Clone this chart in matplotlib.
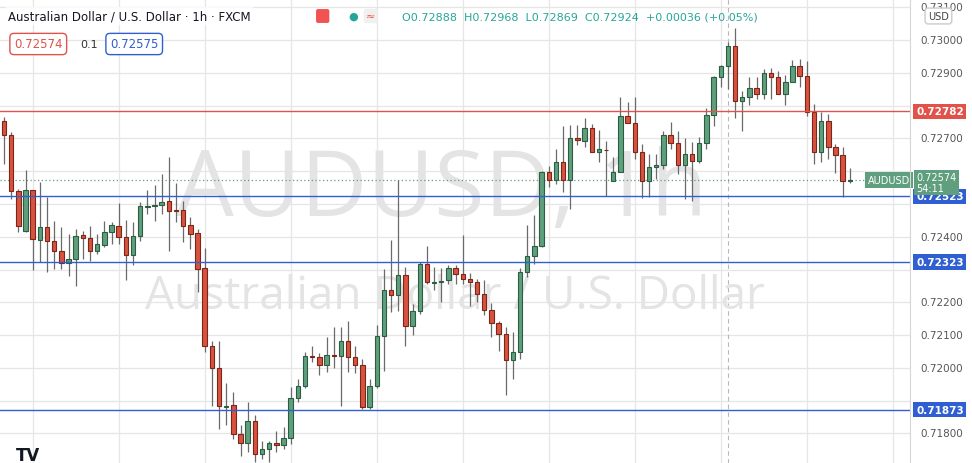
import matplotlib
matplotlib.use("Agg")
import matplotlib.pyplot as plt
from matplotlib.transforms import blended_transform_factory
import numpy as np

# hourly AUD/USD candles (open, high, low, close)
opens = [0.72753, 0.72710, 0.72539, 0.72417, 0.72542, 0.72390, 0.72430, 0.72387, 0.72356, 0.72320,
         0.72332, 0.72405, 0.72396, 0.72356, 0.72375, 0.72414, 0.72433, 0.72399, 0.72344, 0.72402,
         0.72492, 0.72495, 0.72497, 0.72509, 0.72481, 0.72481, 0.72436, 0.72411, 0.72305, 0.72067,
         0.71999, 0.71882, 0.71887, 0.71798, 0.71771, 0.71838, 0.71737, 0.71753, 0.71771, 0.71765,
         0.71786, 0.71908, 0.71945, 0.72036, 0.72033, 0.72009, 0.72039, 0.72036, 0.72082, 0.72033,
         0.72009, 0.71881, 0.71945, 0.72097, 0.72237, 0.72222, 0.72283, 0.72128, 0.72173, 0.72317,
         0.72260, 0.72263, 0.72268, 0.72305, 0.72286, 0.72271, 0.72262, 0.72225, 0.72176, 0.72137,
         0.72103, 0.72024, 0.72048, 0.72292, 0.72341, 0.72372, 0.72597, 0.72573, 0.72628, 0.72573,
         0.72701, 0.72692, 0.72732, 0.72658, 0.72666, 0.72570, 0.72597, 0.72768, 0.72747, 0.72658,
         0.72570, 0.72613, 0.72619, 0.72710, 0.72686, 0.72619, 0.72652, 0.72631, 0.72686, 0.72771,
         0.72887, 0.72921, 0.72982, 0.72814, 0.72826, 0.72854, 0.72835, 0.72899, 0.72887, 0.72835,
         0.72872, 0.72921, 0.72890, 0.72780, 0.72658, 0.72753, 0.72674, 0.72649, 0.72570]
highs = [0.72765, 0.72719, 0.72546, 0.72603, 0.72542, 0.72567, 0.72521, 0.72448, 0.72430, 0.72408,
         0.72424, 0.72417, 0.72433, 0.72408, 0.72448, 0.72445, 0.72503, 0.72451, 0.72445, 0.72506,
         0.72542, 0.72558, 0.72591, 0.72643, 0.72564, 0.72509, 0.72460, 0.72424, 0.72366, 0.72082,
         0.72082, 0.71954, 0.71926, 0.71826, 0.71896, 0.71856, 0.71777, 0.71777, 0.71807, 0.71820,
         0.71942, 0.71966, 0.72048, 0.72067, 0.72045, 0.72094, 0.72125, 0.72125, 0.72143, 0.72067,
         0.72027, 0.71966, 0.72131, 0.72302, 0.72390, 0.72573, 0.72308, 0.72195, 0.72323, 0.72372,
         0.72308, 0.72305, 0.72314, 0.72314, 0.72405, 0.72289, 0.72271, 0.72268, 0.72198, 0.72143,
         0.72125, 0.72109, 0.72305, 0.72436, 0.72466, 0.72600, 0.72616, 0.72668, 0.72738, 0.72741,
         0.72741, 0.72762, 0.72744, 0.72725, 0.72692, 0.72643, 0.72826, 0.72811, 0.72826, 0.72683,
         0.72652, 0.72652, 0.72722, 0.72750, 0.72722, 0.72701, 0.72689, 0.72704, 0.72793, 0.72890,
         0.72924, 0.72994, 0.73037, 0.72844, 0.72887, 0.72887, 0.72912, 0.72915, 0.72905, 0.72893,
         0.72939, 0.72942, 0.72936, 0.72805, 0.72780, 0.72774, 0.72683, 0.72674, 0.72610]
lows = [0.72622, 0.72515, 0.72414, 0.72414, 0.72298, 0.72323, 0.72292, 0.72302, 0.72302, 0.72280,
        0.72250, 0.72332, 0.72326, 0.72347, 0.72369, 0.72378, 0.72378, 0.72268, 0.72314, 0.72387,
        0.72469, 0.72448, 0.72469, 0.72356, 0.72445, 0.72384, 0.72363, 0.72231, 0.72048, 0.71884,
        0.71813, 0.71826, 0.71783, 0.71731, 0.71743, 0.71713, 0.71722, 0.71713, 0.71743, 0.71753,
        0.71768, 0.71896, 0.71939, 0.72018, 0.71978, 0.71987, 0.71999, 0.71884, 0.71987, 0.71984,
        0.71875, 0.71875, 0.71939, 0.71992, 0.72170, 0.72173, 0.72067, 0.72100, 0.72164, 0.72256,
        0.72237, 0.72201, 0.72256, 0.72256, 0.72256, 0.72189, 0.72201, 0.72161, 0.72094, 0.72051,
        0.71917, 0.71966, 0.72027, 0.72277, 0.72317, 0.72369, 0.72552, 0.72561, 0.72536, 0.72485,
        0.72680, 0.72674, 0.72658, 0.72628, 0.72524, 0.72570, 0.72597, 0.72747, 0.72637, 0.72518,
        0.72521, 0.72576, 0.72607, 0.72668, 0.72591, 0.72515, 0.72509, 0.72625, 0.72668, 0.72738,
        0.72857, 0.72851, 0.72762, 0.72722, 0.72802, 0.72820, 0.72820, 0.72820, 0.72835, 0.72802,
        0.72872, 0.72857, 0.72768, 0.72622, 0.72628, 0.72637, 0.72594, 0.72521, 0.72564]
closes = [0.72710, 0.72539, 0.72433, 0.72542, 0.72393, 0.72430, 0.72387, 0.72356, 0.72320, 0.72332,
          0.72402, 0.72396, 0.72356, 0.72378, 0.72414, 0.72436, 0.72399, 0.72344, 0.72402, 0.72494,
          0.72495, 0.72498, 0.72506, 0.72478, 0.72480, 0.72433, 0.72408, 0.72302, 0.72067, 0.71999,
          0.71884, 0.71885, 0.71798, 0.71771, 0.71838, 0.71737, 0.71753, 0.71771, 0.71765, 0.71786,
          0.71908, 0.71945, 0.72036, 0.72033, 0.72009, 0.72039, 0.72036, 0.72082, 0.72033, 0.72009,
          0.71881, 0.71945, 0.72097, 0.72237, 0.72222, 0.72283, 0.72128, 0.72173, 0.72317, 0.72262,
          0.72263, 0.72266, 0.72305, 0.72286, 0.72271, 0.72262, 0.72225, 0.72176, 0.72137, 0.72103,
          0.72024, 0.72048, 0.72292, 0.72341, 0.72372, 0.72597, 0.72573, 0.72628, 0.72573, 0.72701,
          0.72695, 0.72732, 0.72658, 0.72668, 0.72663, 0.72597, 0.72768, 0.72747, 0.72658, 0.72570,
          0.72613, 0.72619, 0.72710, 0.72686, 0.72619, 0.72652, 0.72631, 0.72686, 0.72771, 0.72887,
          0.72921, 0.72982, 0.72814, 0.72826, 0.72854, 0.72835, 0.72899, 0.72887, 0.72835, 0.72872,
          0.72921, 0.72890, 0.72780, 0.72658, 0.72753, 0.72674, 0.72649, 0.72570, 0.72574]

levels = [0.72782, 0.72523, 0.72323, 0.71873]
level_colors = ['#e0524a', '#2f5fd0', '#2f5fd0', '#2f5fd0']
grid_prices = [0.731, 0.730, 0.729, 0.728, 0.727, 0.726, 0.725, 0.724, 0.723, 0.722, 0.721, 0.720, 0.719, 0.718]
# labels that are not hidden behind the level tags
price_labels = [0.731, 0.730, 0.729, 0.727, 0.724, 0.722, 0.721, 0.720, 0.718]
last_price = 0.72574

UP, UP_EDGE = '#5f9f7e', '#2b5e41'
DN, DN_EDGE = '#d8533f', '#7c2519'

fig = plt.figure(figsize=(9.72, 4.64), dpi=100)
ax = fig.add_axes([0, 0, 910 / 972, 1])
ax.set_xlim(-0.56, 126.4)
ax.set_ylim(0.71710, 0.73125)
for s in ax.spines.values():
    s.set_visible(False)
ax.set_xticks([])
ax.set_yticks([])

# grid
for p in grid_prices:
    ax.axhline(p, color='#e6e6e6', lw=0.9, zorder=0)
for gx in range(4, 127, 12):
    ax.axvline(gx, color='#e6e6e6', lw=0.9, zorder=0)
ax.axvline(101, color='#b8b8b8', lw=0.8, ls=(0, (4, 3)), zorder=0)

# watermark
ax.text(0.485, 0.585, 'AUDUSD, 1h', transform=ax.transAxes, fontsize=66, color='#e4e4e4',
        ha='center', va='center', family='Open Sans', zorder=0.5)
ax.text(0.50, 0.36, 'Australian Dollar / U.S. Dollar', transform=ax.transAxes, fontsize=33,
        color='#e4e4e4', ha='center', va='center', family='Open Sans', zorder=0.5)

# candles
idx = np.arange(len(opens))
o, h, l, c = map(np.array, (opens, highs, lows, closes))
up = c >= o
ax.vlines(idx, l, h, color='#6a6a6a', lw=0.9, zorder=2)
bottom = np.minimum(o, c)
height = np.maximum(np.abs(c - o), 0.000025)
ax.bar(idx[up], height[up], bottom=bottom[up], width=0.62, color=UP, edgecolor=UP_EDGE, lw=0.8, zorder=3)
ax.bar(idx[~up], height[~up], bottom=bottom[~up], width=0.62, color=DN, edgecolor=DN_EDGE, lw=0.8, zorder=3)

# levels and last price
for lv, col in zip(levels, level_colors):
    ax.axhline(lv, color=col, lw=1.0, zorder=4)
ax.axhline(last_price, color='#5f9f7e', lw=0.9, ls=(0, (1, 2)), zorder=1)
ax.text(123.5, last_price, 'AUDUSD', color='white', fontsize=7, ha='center', va='center', zorder=6,
        bbox=dict(boxstyle='square,pad=0.3', fc='#5f9f7e', ec='none'))

# right price scale
tr = blended_transform_factory(fig.transFigure, ax.transData)
fig.add_artist(plt.Line2D([910 / 972, 910 / 972], [0, 1], color='#d6d6d6', lw=0.8))
for p in price_labels:
    fig.text(920 / 972, p, f'{p:.5f}', transform=tr, fontsize=7.5, color='#555555', va='center')
for lv, col in zip(levels, level_colors):
    fig.text(916 / 972, lv, f'{lv:.5f}', transform=tr, fontsize=7.5, color='white', va='center',
             fontweight='bold', bbox=dict(boxstyle='square,pad=0.25', fc=col, ec='none'))
fig.text(916 / 972, 0.72565, f'{last_price:.5f}\n54:11', transform=tr, fontsize=7,
         color='white', va='center', linespacing=1.1,
         bbox=dict(boxstyle='square,pad=0.25', fc='#5f9f7e', ec='none'))
fig.text(928 / 972, 1 - 17 / 464, 'USD', fontsize=7, color='#444444', va='center',
         bbox=dict(boxstyle='round,pad=0.3', fc='white', ec='#cccccc'))

# header
fig.text(8 / 972, 1 - 17 / 464, 'Australian Dollar / U.S. Dollar · 1h · FXCM', fontsize=8.5,
         color='#131722', va='center', bbox=dict(boxstyle='square,pad=0.2', fc='white', ec='none', alpha=0.8))
fig.text(318 / 972, 1 - 17 / 464, '   ', fontsize=7, va='center',
         bbox=dict(boxstyle='round,pad=0.2', fc='#f05350', ec='none'))
fig.text(348 / 972, 1 - 17 / 464, '●', fontsize=8, color='#26a69a', va='center')
fig.text(366 / 972, 1 - 17 / 464, '≈', fontsize=8, color='#f05350', va='center',
         bbox=dict(boxstyle='round,pad=0.2', fc='#f0f0f0', ec='none'))
fig.text(402 / 972, 1 - 17 / 464, 'O0.72888  H0.72968  L0.72869  C0.72924  +0.00036 (+0.05%)',
         fontsize=8, color='#26a69a', va='center')
fig.text(14 / 972, 1 - 45 / 464, '0.72574', fontsize=8.5, color='#e0524a', va='center',
         bbox=dict(boxstyle='round,pad=0.35', fc='white', ec='#e0524a'))
fig.text(80 / 972, 1 - 45 / 464, '0.1', fontsize=8, color='#333333', va='center')
fig.text(110 / 972, 1 - 45 / 464, '0.72575', fontsize=8.5, color='#2f5fd0', va='center',
         bbox=dict(boxstyle='round,pad=0.35', fc='white', ec='#2f5fd0'))
fig.text(16 / 972, 8 / 464, 'TV', fontsize=12, fontweight='bold', color='#131722', va='center')

fig.savefig('out.png', dpi=100)
